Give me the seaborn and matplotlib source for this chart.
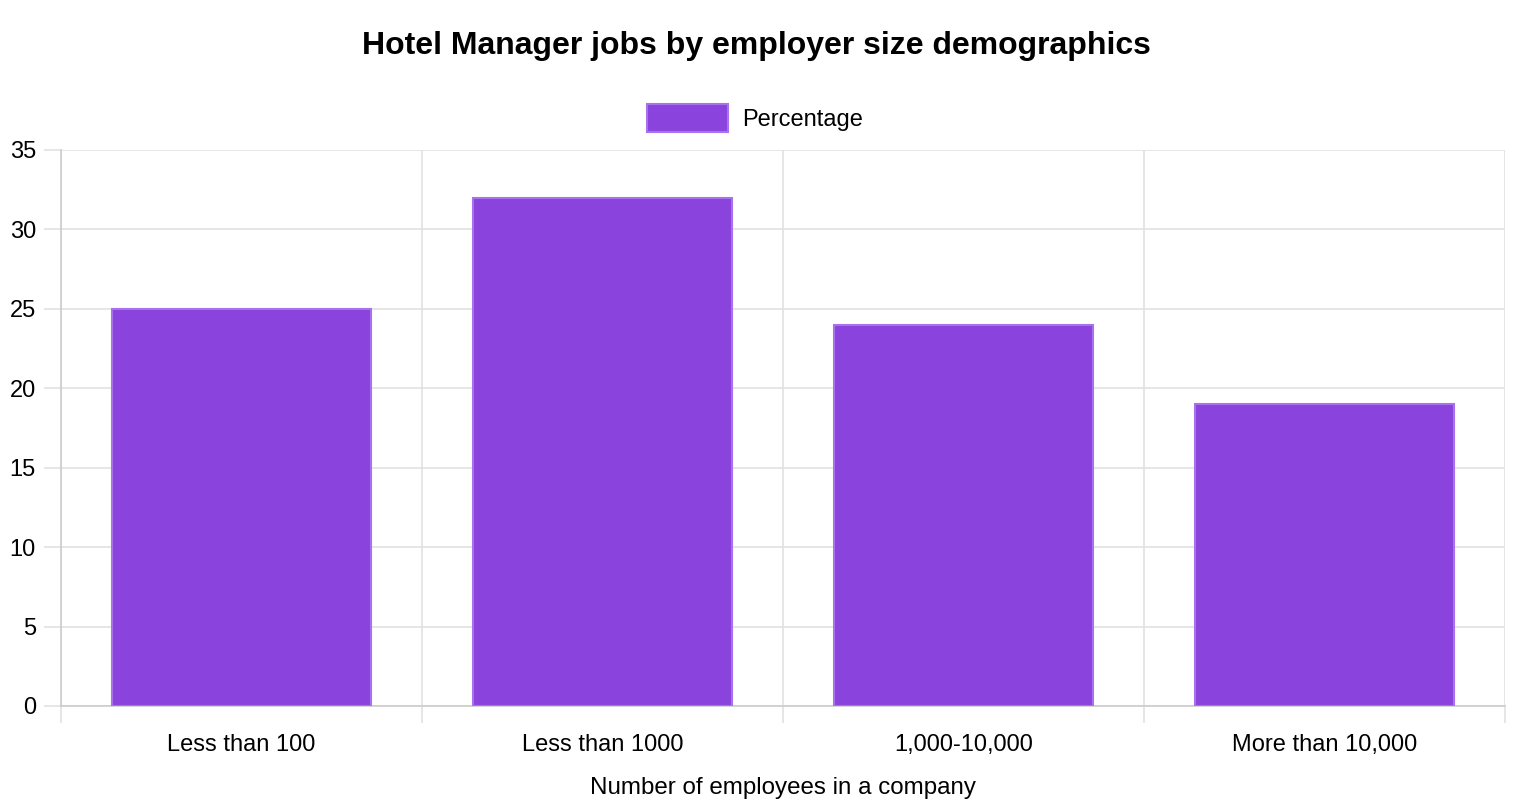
import pandas as pd
import seaborn as sns
import matplotlib.pyplot as plt
from matplotlib.patches import Patch

# Données
categories = ['Less than 100', 'Less than 1000', '1,000-10,000', 'More than 10,000']
percentages = [25, 32, 24, 19]

data = pd.DataFrame({'Size': categories, 'Percentage': percentages})

sns.set_theme(style='white')
plt.rcParams['font.family'] = ['Liberation Sans', 'DejaVu Sans']
plt.rcParams['xtick.bottom'] = True
plt.rcParams['ytick.left'] = True
plt.rcParams['text.color'] = 'black'
plt.rcParams['xtick.labelcolor'] = 'black'
plt.rcParams['ytick.labelcolor'] = 'black'
plt.rcParams['axes.labelcolor'] = 'black'

fig = plt.figure(figsize=(15.3, 8.08), dpi=100)
ax = fig.add_axes([61 / 1530, 1 - 706 / 808, 1444 / 1530, 556 / 808])

bar_color = '#8A43DD'
sns.barplot(data=data, x='Size', y='Percentage', color=bar_color, width=0.72,
            edgecolor='#A872EC', linewidth=1.5, saturation=1, ax=ax, zorder=3)

ax.set_xlim(-0.5, len(categories) - 0.5)
ax.set_ylim(0, 35)
ax.set_yticks(range(0, 36, 5))

# grille verticale entre les catégories
ax.set_xticks([i - 0.5 for i in range(len(categories) + 1)], minor=True)
ax.grid(True, which='minor', axis='x', color='#e2e2e2', linewidth=1.2, zorder=0)
ax.grid(True, which='major', axis='y', color='#e2e2e2', linewidth=1.2, zorder=0)
ax.tick_params(axis='x', which='major', length=0, pad=20, labelsize=17)
ax.tick_params(axis='x', which='minor', length=12, color='#e2e2e2', width=1.2)
ax.tick_params(axis='y', which='major', length=12, color='#e2e2e2', width=1.2,
               pad=6, labelsize=17)

for side in ['top', 'right']:
    ax.spines[side].set_visible(False)
for side in ['left', 'bottom']:
    ax.spines[side].set_color('#cccccc')
    ax.spines[side].set_linewidth(1.2)

ax.set_ylabel('')
ax.set_xlabel('Number of employees in a company', fontsize=17.4, labelpad=15)

fig.suptitle('Hotel Manager jobs by employer size demographics', fontsize=23,
             fontweight='bold', x=756 / 1530, y=1 - 46 / 808, va='center')

handle = Patch(facecolor=bar_color, edgecolor='#A872EC', linewidth=1.5)
fig.legend([handle], ['Percentage'], loc='center', bbox_to_anchor=(755 / 1530, 1 - 118 / 808),
           frameon=False, fontsize=17, handlelength=3.45, handleheight=1.5, handletextpad=0.6)

plt.savefig('out.png', dpi=100)
